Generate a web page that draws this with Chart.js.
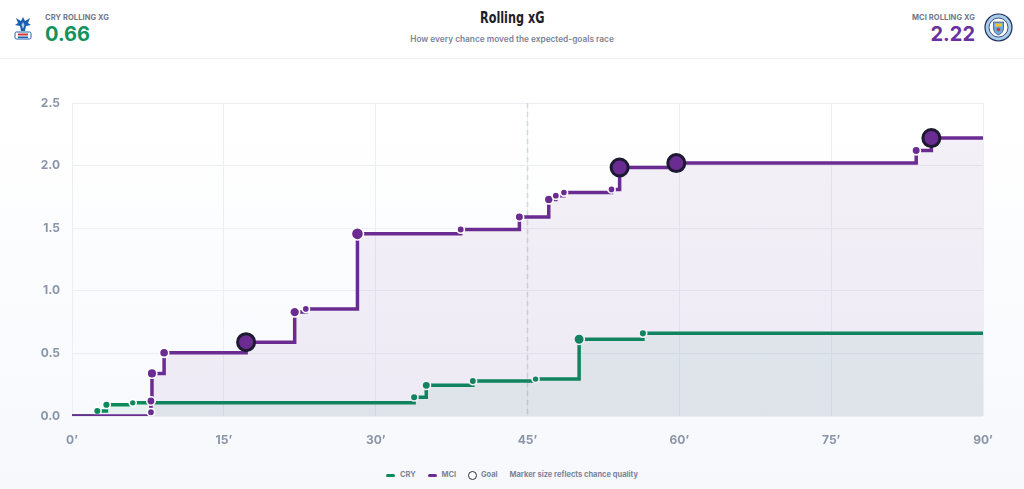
<!DOCTYPE html>
<html>
<head>
<meta charset="utf-8">
<script src="https://cdn.jsdelivr.net/npm/chart.js@4.4.1/dist/chart.umd.min.js"></script>
<style>
  html, body { margin: 0; padding: 0; }
  body {
    width: 1024px; height: 489px; overflow: hidden; position: relative;
    font-family: Inter, "Noto Sans", sans-serif;
    background: linear-gradient(#ffffff 0px, #ffffff 120px, #f6f8fc 489px);
  }
  .header {
    position: absolute; left: 0; top: 0; width: 1024px; height: 58px;
    background: #fff; border-bottom: 1px solid #eef0f5;
  }
  .side { position: absolute; top: 13px; }
  .side .lbl { font-size: 7.5px; font-weight: 700; color: #6f7889; letter-spacing: 0.1px; }
  .side .val { font-size: 20px; font-weight: 700; line-height: 22px; margin-top: 1px; }
  .left { left: 45px; }
  .right { right: 49px; text-align: right; }
  .title {
    position: absolute; top: 8px; left: 0; width: 1024px; text-align: center;
    font-family: "DejaVu Sans Condensed", sans-serif;
    font-size: 16px; font-weight: 700; color: #1b1e2b;
  }
  .title span { display: inline-block; transform: scaleX(0.78); }
  .sub {
    position: absolute; top: 34px; left: 0; width: 1024px; text-align: center;
    font-size: 8.3px; font-weight: 600; color: #7a8498;
  }
  .crest { position: absolute; }
  #wrap { position: absolute; left: 0; top: 60px; width: 1024px; height: 400px; }
  .legend {
    position: absolute; top: 470px; left: 0; width: 1024px; text-align: center;
    font-size: 7.5px; font-weight: 700; color: #7b8598;
  }
  .legend span.item { display: inline-block; margin: 0 5px; vertical-align: middle; }
  .sw { display: inline-block; width: 9px; height: 3px; border-radius: 2px; vertical-align: middle; margin-right: 5px; }
  .ring { display: inline-block; width: 7px; height: 7px; border: 1.5px solid #2a2c3c; border-radius: 50%; vertical-align: middle; margin-right: 4px; background: #fff; }
</style>
</head>
<body>
<div class="header">
  <svg class="crest" style="left:12px;top:14px" width="22" height="28" viewBox="0 0 22 28">
    <path d="M11 3 L13 7 L18 4 L16 9 L19 11 L14 12 L13 17 L9 17 L8 12 L3 11 L6 9 L4 4 L9 7 Z" fill="#1b5fb0"/>
    <path d="M11 8 L12.5 11 L11 15 L9.5 11 Z" fill="#ffffff" opacity="0.7"/>
    <rect x="3" y="18" width="16" height="7" rx="1.5" fill="#fff" stroke="#1b5fb0" stroke-width="1"/>
    <rect x="6" y="19.5" width="10" height="2" fill="#d8343a"/>
    <rect x="6" y="22.5" width="10" height="1.5" fill="#1b5fb0"/>
  </svg>
  <div class="side left">
    <div class="lbl">CRY ROLLING XG</div>
    <div class="val" style="color:#12925e">0.66</div>
  </div>
  <div class="title"><span>Rolling xG</span></div>
  <div class="sub">How every chance moved the expected-goals race</div>
  <div class="side right">
    <div class="lbl">MCI ROLLING XG</div>
    <div class="val" style="color:#6b2fa0">2.22</div>
  </div>
  <svg class="crest" style="left:984px;top:13px" width="29" height="29" viewBox="0 0 29 29">
    <circle cx="14.5" cy="14.5" r="13.5" fill="#a9cdeb" stroke="#1c2c5b" stroke-width="1.2"/>
    <circle cx="14.5" cy="14.5" r="9.5" fill="#fff" stroke="#1c2c5b" stroke-width="0.8"/>
    <path d="M9.5 9 H19.5 V15 Q19.5 20 14.5 22 Q9.5 20 9.5 15 Z" fill="#6cabdd" stroke="#1c2c5b" stroke-width="0.6"/>
    <rect x="11" y="10.5" width="7" height="3" fill="#f2c230"/>
    <circle cx="14.5" cy="16.5" r="1.8" fill="#d8343a"/>
  </svg>
</div>

<div id="wrap"><canvas id="myChart"></canvas></div>

<div class="legend">
  <span class="item"><span class="sw" style="background:#0b8a5c"></span>CRY</span>
  <span class="item"><span class="sw" style="background:#6a2c91"></span>MCI</span>
  <span class="item"><span class="ring"></span>Goal</span>
  <span class="item">Marker size reflects chance quality</span>
</div>

<script>
// shot minutes and running xG total after each shot
var cryMinutes = [2.5, 3.4, 6.0, 33.8, 35.0, 39.6, 45.8, 50.1, 56.4];
var cryCumXg   = [0.04, 0.09, 0.105, 0.15, 0.245, 0.28, 0.295, 0.613, 0.66];
var cryGoals   = [0, 0, 0, 0, 0, 0, 0, 0, 0];

var mciMinutes = [7.8, 7.8, 7.9, 9.1, 17.2, 22.0, 23.1, 28.2, 38.4, 44.2, 47.1, 47.8, 48.6, 53.3, 54.1, 59.7, 83.4, 84.9];
var mciCumXg   = [0.03, 0.12, 0.34, 0.505, 0.59, 0.83, 0.855, 1.455, 1.49, 1.59, 1.73, 1.76, 1.785, 1.81, 1.985, 2.02, 2.12, 2.22];
var mciGoals   = [0, 0, 0, 0, 1, 0, 0, 0, 0, 0, 0, 0, 0, 0, 1, 1, 0, 1];

var xTicks = [0, 15, 30, 45, 60, 75, 90];
var fullTime = 90;
var halfTime = 45;

var cryColor = '#0b8a5c';
var mciColor = '#6a2c91';
var goalRing = '#1c1930';

function buildSeries(minutes, cum) {
    var pts = [{ x: 0, y: 0 }];
    for (var i = 0; i < minutes.length; i++) {
        pts.push({ x: minutes[i], y: cum[i] });
    }
    pts.push({ x: fullTime, y: cum[cum.length - 1] });
    return pts;
}

// marker radius: grows with the xG of that one chance, goals get the big ringed dot
function radiusFor(cum, goals) {
    return function (ctx) {
        var i = ctx.dataIndex - 1;
        if (i < 0 || i >= cum.length) return 0;
        if (goals[i]) return 8.5;
        var prev = i > 0 ? cum[i - 1] : 0;
        var d = Math.max(cum[i] - prev, 0);
        return 3 + 4 * Math.sqrt(d);
    };
}
function borderFor(goals, what) {
    return function (ctx) {
        var i = ctx.dataIndex - 1;
        var g = i >= 0 && i < goals.length && goals[i];
        if (what === 'color') return g ? goalRing : '#ffffff';
        return g ? 3 : 1.6;
    };
}

const halfLine = {
    id: 'halfLine',
    beforeDatasetsDraw: (chart) => {
        const x = chart.scales.x.getPixelForValue(halfTime);
        const ctx = chart.ctx;
        ctx.save();
        ctx.beginPath();
        ctx.setLineDash([5, 4]);
        ctx.moveTo(x, chart.chartArea.top);
        ctx.lineTo(x, chart.chartArea.bottom);
        ctx.strokeStyle = '#d3d8e2';
        ctx.lineWidth = 1.5;
        ctx.stroke();
        ctx.restore();
    }
};

const ctx = document.getElementById('myChart').getContext('2d');
const tickFont = { family: 'Inter, "Noto Sans", sans-serif', size: 12, weight: 'bold' };

new Chart(ctx, {
    type: 'line',
    data: {
        datasets: [{
            label: 'MCI',
            data: buildSeries(mciMinutes, mciCumXg),
            borderColor: mciColor,
            backgroundColor: 'rgba(106,44,145,0.07)',
            borderWidth: 3.5,
            borderCapStyle: 'round',
            stepped: true,
            fill: 'origin',
            pointBackgroundColor: mciColor,
            pointRadius: radiusFor(mciCumXg, mciGoals),
            pointBorderColor: borderFor(mciGoals, 'color'),
            pointBorderWidth: borderFor(mciGoals, 'width')
        }, {
            label: 'CRY',
            data: buildSeries(cryMinutes, cryCumXg),
            borderColor: cryColor,
            backgroundColor: 'rgba(11,138,92,0.07)',
            borderWidth: 3.5,
            borderCapStyle: 'round',
            stepped: true,
            fill: 'origin',
            pointBackgroundColor: cryColor,
            pointRadius: radiusFor(cryCumXg, cryGoals),
            pointBorderColor: borderFor(cryGoals, 'color'),
            pointBorderWidth: borderFor(cryGoals, 'width')
        }]
    },
    options: {
        responsive: true,
        maintainAspectRatio: false,
        animation: false,
        layout: { padding: { top: 43, right: 41, bottom: 0, left: 0 } },
        plugins: { legend: { display: false }, tooltip: { enabled: false } },
        scales: {
            x: {
                type: 'linear',
                min: 0,
                max: fullTime,
                afterBuildTicks: (scale) => { scale.ticks = xTicks.map(v => ({ value: v })); },
                afterFit: (scale) => { scale.height = 44; },
                grid: { color: '#eceef3', drawTicks: false },
                border: { display: false },
                ticks: {
                    padding: 17,
                    color: '#8a95a9',
                    font: tickFont,
                    callback: (v) => v + '’'
                }
            },
            y: {
                min: 0,
                max: 2.5,
                afterFit: (scale) => { scale.width = 72; },
                grid: { color: '#eceef3', drawTicks: false },
                border: { display: false },
                ticks: {
                    stepSize: 0.5,
                    padding: 12,
                    color: '#8a95a9',
                    font: tickFont,
                    callback: (v) => Number(v).toFixed(1)
                }
            }
        }
    },
    plugins: [halfLine]
});
</script>
</body>
</html>
